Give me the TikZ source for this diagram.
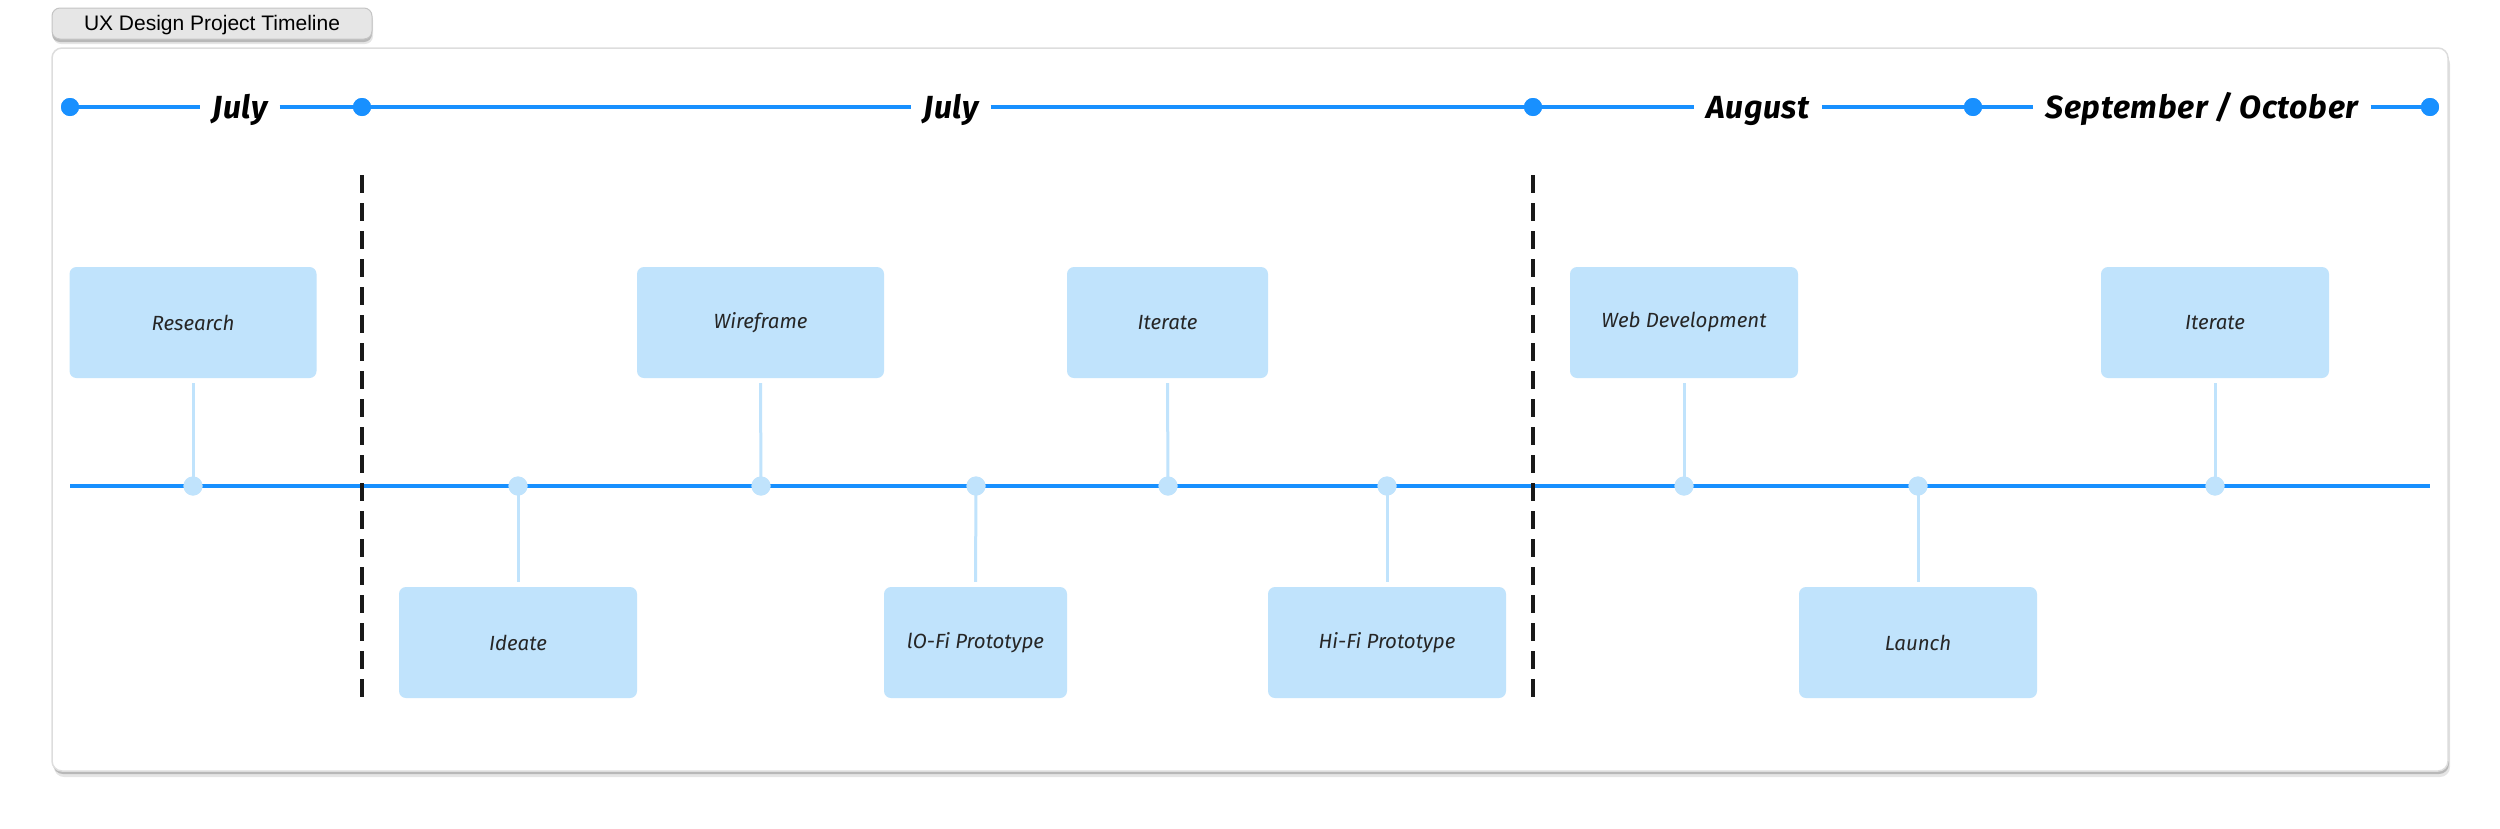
\documentclass[tikz,border=0pt]{standalone}
\usepackage{fontspec}
\setmainfont{Fira Sans}
\newfontfamily\monthfont[LetterSpace=2]{Fira Sans}
\newfontfamily\uifont{Liberation Sans}
\definecolor{tlblue}{HTML}{1890FF}
\definecolor{tllight}{HTML}{C0E3FC}
\definecolor{btnfill}{HTML}{E6E6E6}
\definecolor{btnline}{HTML}{C4C4C4}
\definecolor{frameline}{HTML}{DDDDDD}
\begin{document}
\begin{tikzpicture}[x=1pt,y=-1pt,
  topdot/.style={circle,fill=tlblue,minimum size=18pt,inner sep=0pt},
  evdot/.style={circle,fill=tllight,minimum size=19pt,inner sep=0pt},
  month/.style={anchor=base,inner xsep=12pt,font=\monthfont\fontsize{32}{36}\selectfont\bfseries\itshape,text=black},
  task/.style={rectangle,rounded corners=7pt,fill=tllight,inner sep=0pt,minimum height=111pt,font=\fontsize{20.5}{24}\selectfont\itshape,text=black!85},
  stem/.style={draw=tllight,line width=3pt},
  tline/.style={draw=tlblue,line width=4pt},
  divider/.style={draw=black!90,line width=4pt,dash pattern=on 18pt off 10pt},
  shadowA/.style={fill=black!10,rounded corners=10pt},
  shadowB/.style={fill=black!28,rounded corners=10pt}
]
\useasboundingbox (0,0) rectangle (2500,828);

% frame with shadow
\fill[shadowA] (54,54) rectangle (2450,777);
\fill[shadowB] (53,51) rectangle (2449,774);
\draw[draw=frameline,line width=1.5pt,fill=white,rounded corners=10pt] (52,48) rectangle (2448,771);

% title button
\fill[shadowA,rounded corners=8pt] (53,12) rectangle (373,44);
\fill[shadowB,rounded corners=8pt] (52,10) rectangle (372,42);
\draw[draw=btnline,line width=1pt,fill=btnfill,rounded corners=8pt] (52,8) rectangle (372,39);
\node[font=\uifont\fontsize{21}{24}\selectfont,text=black] (title) at (212,25) {UX Design Project Timeline};

% top month timeline
\node[topdot] (d1) at (70,107) {};
\node[topdot] (d2) at (362,107) {};
\node[topdot] (d3) at (1533,107) {};
\node[topdot] (d4) at (1973,107) {};
\node[topdot] (d5) at (2430,107) {};
\node[month] (m1) at (240,118) {July};
\node[month] (m2) at (951,118) {July};
\node[month] (m3) at (1758,118) {August};
\node[month] (m4) at (2202,118) {September / October};
\draw[tline] (d1.center) -- (m1.west |- d1.center);
\draw[tline] (m1.east |- d1.center) -- (d2.center) -- (m2.west |- d2.center);
\draw[tline] (m2.east |- d2.center) -- (d3.center) -- (m3.west |- d3.center);
\draw[tline] (m3.east |- d3.center) -- (d4.center) -- (m4.west |- d4.center);
\draw[tline] (m4.east |- d4.center) -- (d5.center);
\foreach \n in {d1,d2,d3,d4,d5} \fill[tlblue] (\n) circle (9pt);

% main timeline
\coordinate (tl) at (70,486);
\coordinate (tr) at (2430,486);
\draw[tline] (tl) -- (tr);

% task boxes
\node[task,minimum width=247pt] (research) at (193,322.5) {Research};
\node[task,minimum width=238pt] (ideate) at (518,642.5) {Ideate};
\node[task,minimum width=247pt] (wireframe) at (760.5,322.5) {Wireframe};
\node[task,minimum width=183pt] (lofi) at (975.5,642.5) {lO-Fi Prototype};
\node[task,minimum width=201pt] (iterA) at (1167.5,322.5) {Iterate};
\node[task,minimum width=238pt] (hifi) at (1387,642.5) {Hi-Fi Prototype};
\node[task,minimum width=228pt] (webdev) at (1684,322.5) {Web Development};
\node[task,minimum width=238pt] (launch) at (1918,642.5) {Launch};
\node[task,minimum width=228pt] (iterB) at (2215,322.5) {Iterate};

% event dots
\node[evdot] (e1) at (193,486) {};
\node[evdot] (e2) at (518,486) {};
\node[evdot] (e3) at (761,486) {};
\node[evdot] (e4) at (976,486) {};
\node[evdot] (e5) at (1168,486) {};
\node[evdot] (e6) at (1387,486) {};
\node[evdot] (e7) at (1684,486) {};
\node[evdot] (e8) at (1918,486) {};
\node[evdot] (e9) at (2215,486) {};

% stems
\draw[stem] ([yshift=-5pt]research.south) -- (e1.center);
\draw[stem] (e2.center) -- ([yshift=5pt]ideate.north);
\draw[stem] ([yshift=-5pt]wireframe.south) -- (e3.center);
\draw[stem] (e4.center) -- ([yshift=5pt]lofi.north);
\draw[stem] ([yshift=-5pt]iterA.south) -- (e5.center);
\draw[stem] (e6.center) -- ([yshift=5pt]hifi.north);
\draw[stem] ([yshift=-5pt]webdev.south) -- (e7.center);
\draw[stem] (e8.center) -- ([yshift=5pt]launch.north);
\draw[stem] ([yshift=-5pt]iterB.south) -- (e9.center);
\foreach \n in {e1,e2,e3,e4,e5,e6,e7,e8,e9} \fill[tllight] (\n) circle (9.5pt);

% phase dividers
\coordinate (v1t) at (362,175);
\coordinate (v1b) at (362,698);
\coordinate (v2t) at (1533,175);
\coordinate (v2b) at (1533,698);
\draw[divider] (v1t) -- (v1b);
\draw[divider] (v2t) -- (v2b);
\end{tikzpicture}
\end{document}
